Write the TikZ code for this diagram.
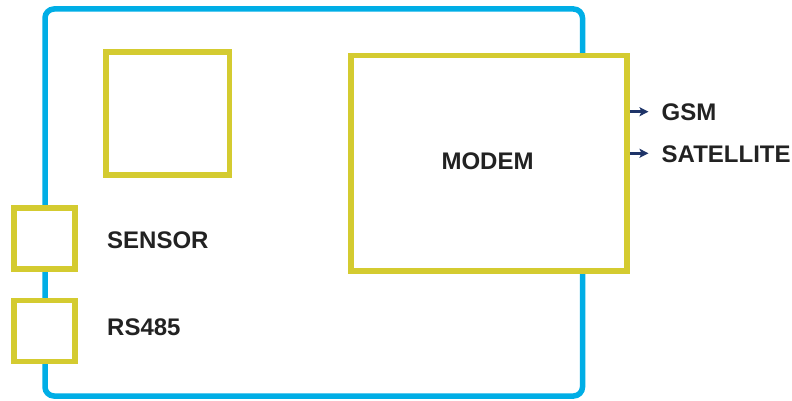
\documentclass[tikz,border=0pt]{standalone}
\usepackage{fontspec}
\setmainfont{Liberation Sans}
\usetikzlibrary{arrows.meta}
\definecolor{boardblue}{HTML}{00AEE6}
\definecolor{boxyellow}{HTML}{D4CB30}
\definecolor{txtdark}{HTML}{222222}
\definecolor{arrownavy}{HTML}{1E3468}
\begin{document}
\begin{tikzpicture}[x=1pt,y=-1pt,
  board/.style={draw=boardblue,line width=5.5pt,rounded corners=9pt},
  ybox/.style={draw=boxyellow,line width=5.7pt,fill=white},
  lbl/.style={font=\fontsize{24}{28}\selectfont\bfseries,text=txtdark,inner sep=0pt},
  sig/.style={draw=arrownavy,line width=2.4pt,-{Stealth[length=9pt,width=9pt,inset=2pt]}}]
\useasboundingbox (0,0) rectangle (792,401);
\draw[board] (45,9) rectangle (582.5,396);
\node[ybox,minimum width=123.5pt,minimum height=123pt,inner sep=0pt] (chip) at (167.75,113.5) {};
\node[ybox,minimum width=275.5pt,minimum height=215.5pt,inner sep=0pt] (modem) at (489,163.25) {};
\node[lbl] (modemtxt) at (487.5,161) {MODEM};
\node[ybox,minimum width=61pt,minimum height=61pt,inner sep=0pt] (sensor) at (44.5,238.5) {};
\node[ybox,minimum width=61pt,minimum height=61pt,inner sep=0pt] (rs) at (44.5,331) {};
\node[lbl,anchor=west] (sensortxt) at (107,240.5) {SENSOR};
\node[lbl,anchor=west] (rstxt) at (107,327.5) {RS485};
\node[lbl,anchor=west] (gsm) at (661.5,112.5) {GSM};
\node[lbl,anchor=west] (sat) at (661.5,154.5) {SATELLITE};
\coordinate (g0) at (629.8,111.7);
\coordinate (s0) at (629.8,153.3);
\draw[sig] (g0) -- (648.5,111.7);
\draw[sig] (s0) -- (648.5,153.3);
\end{tikzpicture}
\end{document}
